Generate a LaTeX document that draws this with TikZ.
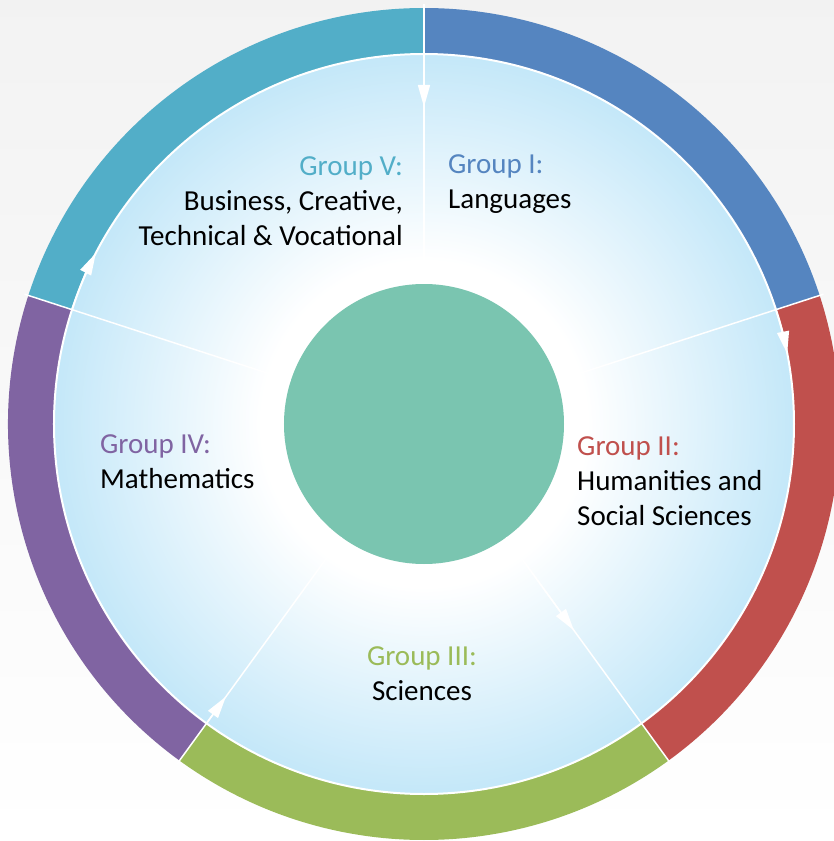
\documentclass[tikz,border=0pt]{standalone}
\usepackage{fontspec}
\setmainfont{Carlito}
\usetikzlibrary{arrows.meta}

\definecolor{grpone}{HTML}{5585C0}
\definecolor{grptwo}{HTML}{C0504D}
\definecolor{grpthree}{HTML}{9BBB59}
\definecolor{grpfour}{HTML}{8064A2}
\definecolor{grpfive}{HTML}{52AEC8}
\definecolor{hubgreen}{HTML}{7AC5B0}
\definecolor{diskblue}{HTML}{A2DAF5}

\pgfdeclareradialshading{diskshade}{\pgfpoint{0bp}{0bp}}{color(0bp)=(white); color(11bp)=(white); color(33bp)=(diskblue); color(50bp)=(diskblue)}

\begin{document}
\begin{tikzpicture}[x=1pt,y=1pt,
	divider/.style={white, line width=1.5pt},
	flow/.style={white, line width=1.5pt, -{Triangle[length=22pt,width=12pt]}},
	hub/.style={circle, fill=hubgreen, minimum size=280pt, inner sep=0pt},
	grouplabel/.style={font=\fontsize{29}{35}\selectfont, inner sep=0pt}]
		%Frame
		\useasboundingbox (-424,-417) rectangle (410,424);
		\clip (-424,-417) rectangle (410,424);
		\shade[top color=black!5, bottom color=white] (-424,-417) rectangle (410,424);
		
		%Ring
		\foreach \a/\c in {90/grpone,18/grptwo,306/grpthree,234/grpfour,162/grpfive}
			\fill[\c] (\a:416) arc[start angle=\a, end angle=\a-72, radius=416]
				-- (\a-72:370) arc[start angle=\a-72, end angle=\a, radius=370] -- cycle;
		
		%Disk
		\fill[shading=diskshade] (0,0) circle[radius=370];
		\draw[white, line width=2pt] (0,0) circle[radius=370];
		\node[hub] (hub) at (0,0) {};
		
		%Dividers
		\foreach \a in {90,18,306,234,162}
			\draw[divider] (hub.\a) -- (\a:420);
		
		%Flow
		\draw[flow] (90:370) -- (90:317);
		\draw[flow] (18:370) arc[start angle=18, end angle=11, radius=370];
		\draw[flow] (hub.306) -- (306:255);
		\draw[flow] (234:370) -- (234:337);
		\draw[flow] (162:370) arc[start angle=162, end angle=152.5, radius=370];
		
		%Groups
		\node[grouplabel, anchor=base west, align=left] (g_one) at (24,215)
			{\textcolor{grpone}{Group I:}\\Languages};
		\node[grouplabel, anchor=base west, align=left] (g_two) at (153,-101)
			{\textcolor{grptwo}{Group II:}\\Humanities and\\Social Sciences};
		\node[grouplabel, anchor=base, align=center] (g_three) at (-2,-276)
			{\textcolor{grpthree}{Group III:}\\Sciences};
		\node[grouplabel, anchor=base west, align=left] (g_four) at (-324,-64)
			{\textcolor{grpfour}{Group IV:}\\Mathematics};
		\node[grouplabel, anchor=base east, align=right] (g_five) at (-21,178)
			{\textcolor{grpfive}{Group V:}\\Business, Creative,\\Technical \& Vocational};
		
	\end{tikzpicture}
\end{document}
